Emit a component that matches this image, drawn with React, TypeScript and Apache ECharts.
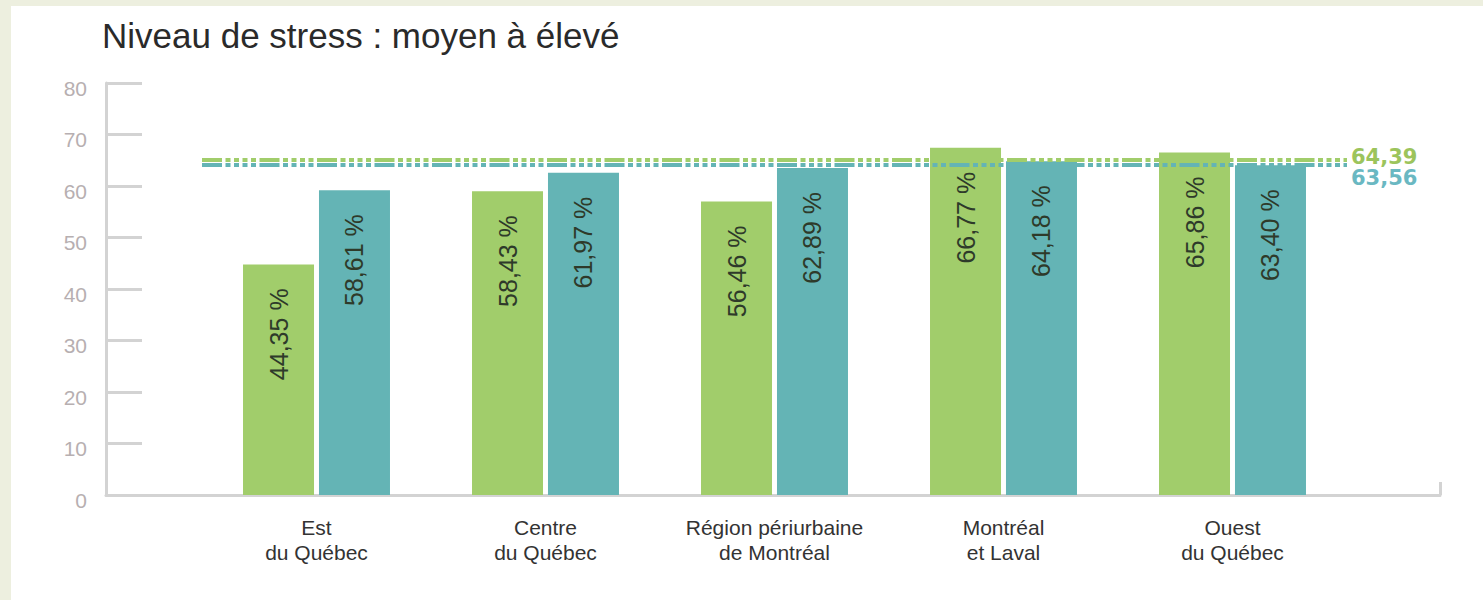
import React, { useEffect, useRef } from "react";
import * as echarts from "echarts";

const categories = [
  "Est\ndu Québec",
  "Centre\ndu Québec",
  "Région périurbaine\nde Montréal",
  "Montréal\net Laval",
  "Ouest\ndu Québec",
];
const greenValues = [44.35, 58.43, 56.46, 66.77, 65.86];
const tealValues = [58.61, 61.97, 62.89, 64.18, 63.4];
const greenAverage = 64.39;
const tealAverage = 63.56;
const yMin = 0;
const yMax = 80;
const yInterval = 10;
const titleText = "Niveau de stress : moyen à élevé";

const GREEN = "#a1cd6b";
const TEAL = "#64b4b5";
const AXIS = "#d3d3d3";
const FONT = "'Liberation Sans', Arial, sans-serif";
const DASH = [20, 3.5, 5, 3.5, 5, 3.5, 5, 3.5, 5, 3.5];

const fmt = (v: number) => v.toFixed(2).replace(".", ",");

export default function App() {
  const ref = useRef<HTMLDivElement>(null);
  useEffect(() => {
    if (!ref.current) return;
    const chart = echarts.init(ref.current, null, { renderer: "svg" });
    const barLabel = {
      show: true,
      position: "insideTop",
      rotate: 90,
      align: "right",
      verticalAlign: "middle",
      distance: 24,
      color: "#2e3a2a",
      fontSize: 25,
      fontFamily: FONT,
      formatter: (p: any) => fmt(p.value) + " %",
    };
    chart.setOption({
      animation: false,
      title: {
        text: titleText,
        left: 97,
        top: 13,
        textStyle: { fontSize: 35, fontWeight: "normal", color: "#2a2a2a", fontFamily: FONT },
      },
      grid: [
        { left: 106, right: 43, top: 83, bottom: 105 },
        { left: 202, right: 136, top: 79, bottom: 105 },
      ],
      xAxis: [
        {
          gridIndex: 0,
          type: "value",
          min: 0,
          max: 1,
          interval: 1,
          axisLine: { show: true, lineStyle: { color: AXIS, width: 3 } },
          axisTick: { show: true, inside: true, length: 13, lineStyle: { color: AXIS, width: 3 } },
          axisLabel: { show: false },
          splitLine: { show: false },
        },
        {
          gridIndex: 1,
          type: "category",
          data: categories,
          axisLine: { show: false },
          axisTick: { show: false },
          axisLabel: {
            interval: 0,
            hideOverlap: false,
            margin: 20,
            color: "#333333",
            fontSize: 21,
            lineHeight: 25,
            fontFamily: FONT,
          },
        },
      ],
      yAxis: [
        {
          gridIndex: 0,
          type: "value",
          min: yMin,
          max: yMax,
          interval: yInterval,
          axisLine: { show: true, lineStyle: { color: AXIS, width: 3 } },
          axisTick: { show: true, inside: true, length: 36, lineStyle: { color: AXIS, width: 3 } },
          axisLabel: {
            margin: 19,
            color: "#b7afb1",
            fontSize: 21,
            fontFamily: FONT,
            verticalAlign: "top",
            lineHeight: 10,
          },
          splitLine: { show: false },
        },
        {
          gridIndex: 1,
          type: "value",
          min: yMin,
          max: yMax,
          interval: yInterval,
          show: false,
          splitLine: { show: false },
        },
      ],
      series: [
        {
          type: "bar",
          xAxisIndex: 1,
          yAxisIndex: 1,
          data: greenValues,
          barWidth: 71,
          barGap: "7%",
          itemStyle: { color: GREEN },
          label: barLabel,
          markLine: {
            silent: true,
            symbol: "none",
            lineStyle: { color: GREEN, width: 4, type: DASH },
            label: {
              position: "end",
              color: "#9cc45c",
              fontSize: 21,
              fontWeight: "bold",
              fontFamily: "'DejaVu Sans', sans-serif",
              verticalAlign: "bottom",
              lineHeight: 6,
              distance: 4,
              formatter: () => fmt(greenAverage),
            },
            data: [{ yAxis: greenAverage }],
          },
        },
        {
          type: "bar",
          xAxisIndex: 1,
          yAxisIndex: 1,
          data: tealValues,
          barWidth: 71,
          itemStyle: { color: TEAL },
          label: barLabel,
          markLine: {
            silent: true,
            symbol: "none",
            lineStyle: { color: TEAL, width: 4, type: DASH },
            label: {
              position: "end",
              color: "#6ab8c2",
              fontSize: 21,
              fontWeight: "bold",
              fontFamily: "'DejaVu Sans', sans-serif",
              verticalAlign: "top",
              lineHeight: 28,
              distance: 4,
              formatter: () => fmt(tealAverage),
            },
            data: [{ yAxis: tealAverage }],
          },
        },
      ],
    });
    return () => chart.dispose();
  }, []);

  return (
    <div style={{ position: "fixed", left: 0, top: 0, width: 1483, height: 600, background: "#edefdf" }}>
      <div style={{ position: "absolute", left: 11, top: 6, right: 0, bottom: 0, background: "#ffffff" }} />
      <div ref={ref} style={{ position: "absolute", left: 0, top: 0, width: 1483, height: 600 }} />
    </div>
  );
}
